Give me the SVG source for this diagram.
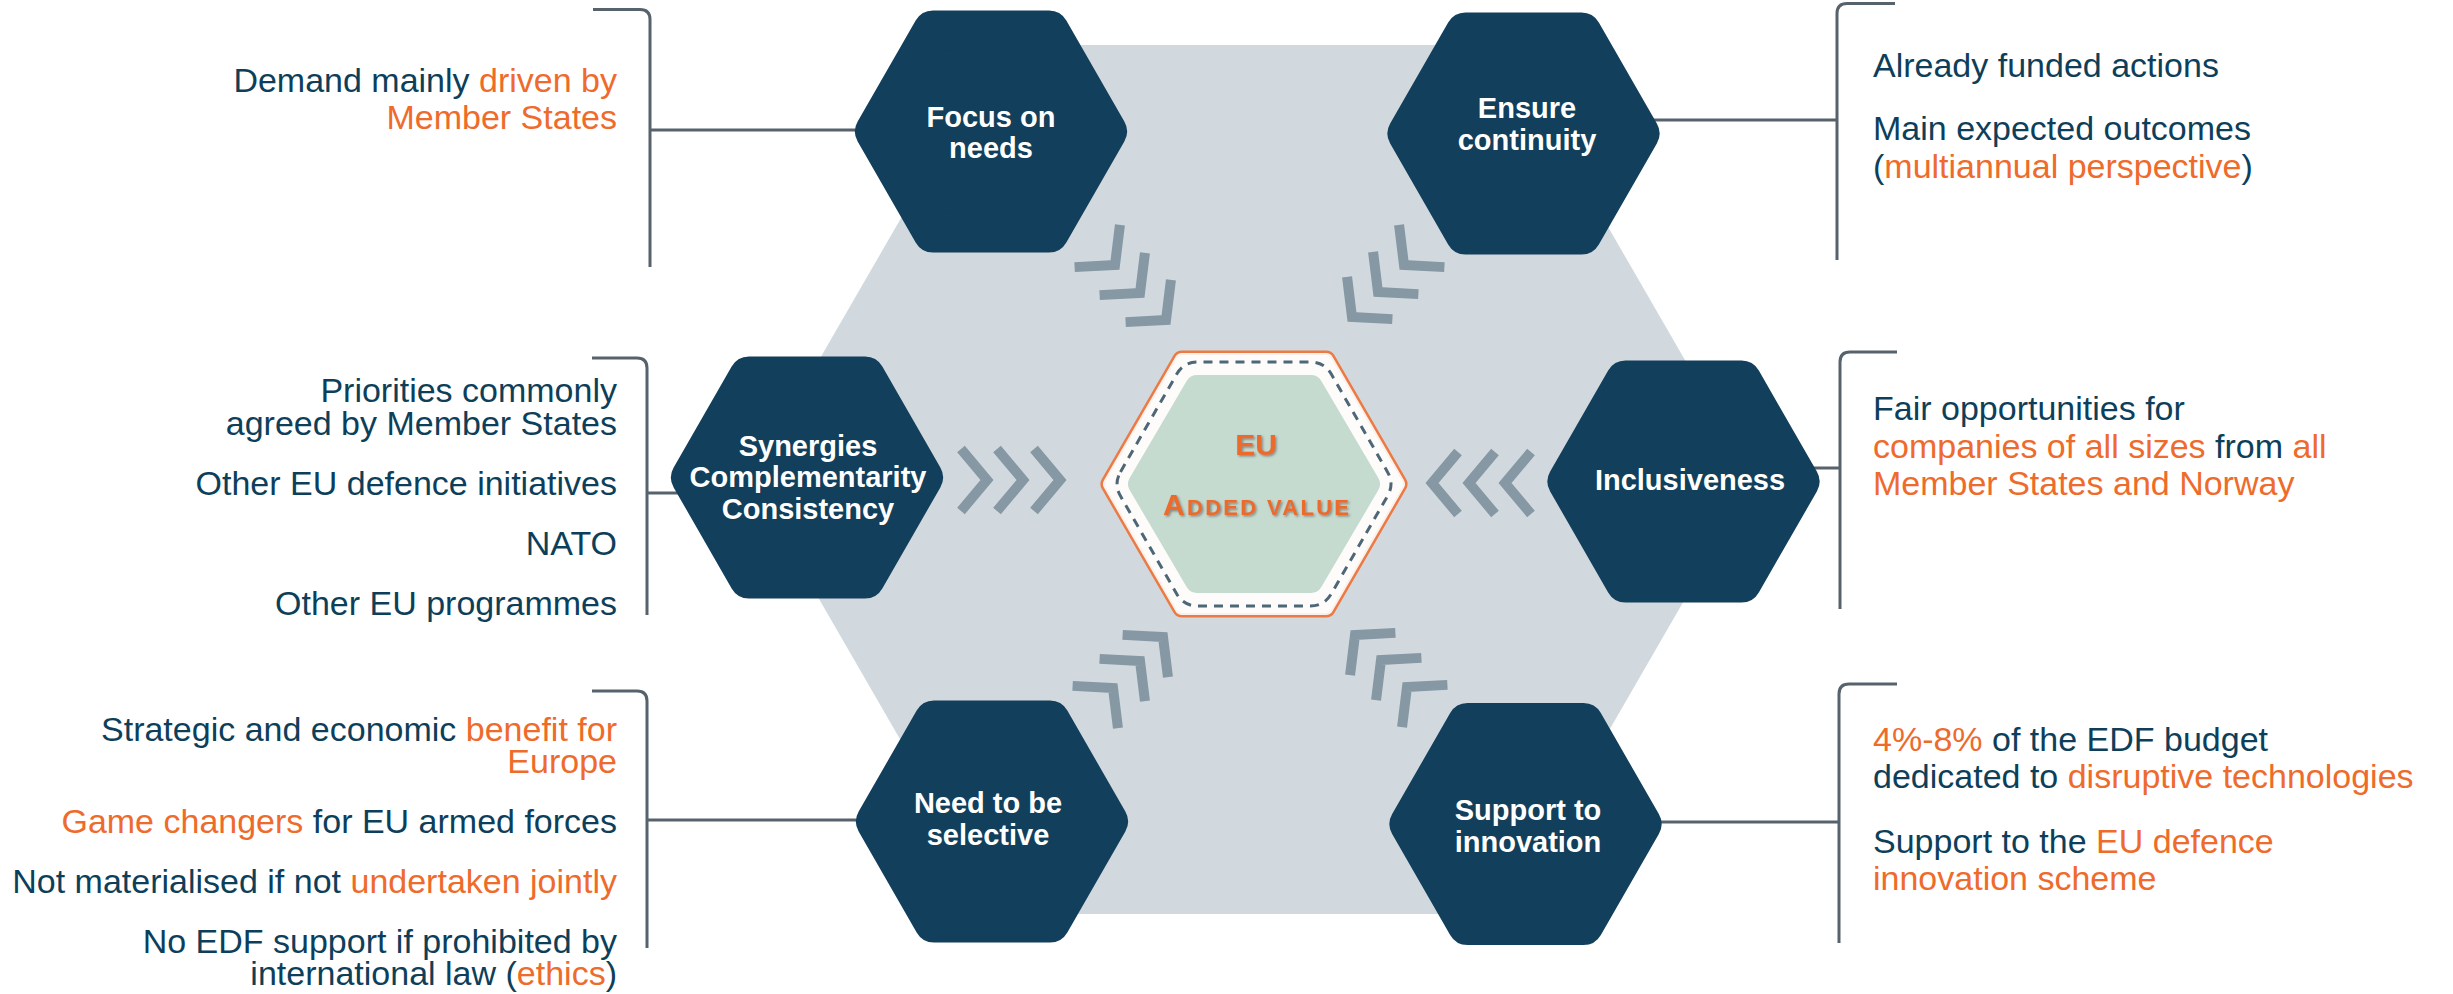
<svg xmlns="http://www.w3.org/2000/svg" width="2453" height="994" viewBox="0 0 2453 994">
<defs>
<style>
.t{font-family:"Liberation Sans",Arial,sans-serif;font-size:34px;fill:#0e3f5a}
.e{text-anchor:end}
.o{fill:#ee6b2b}
.l{font-family:"Liberation Sans",Arial,sans-serif;font-size:29px;font-weight:bold;fill:#ffffff;text-anchor:middle}
.hexn{fill:#123f5b;stroke:#123f5b;stroke-width:40;stroke-linejoin:round}
.br{fill:none;stroke:#56636c;stroke-width:3}
.ch{fill:none;stroke:#8598a4;stroke-width:10;stroke-linejoin:miter}
.cv{font-family:"Liberation Sans",Arial,sans-serif;font-weight:bold;fill:#ec6a2a;text-anchor:middle}
</style>
<polygon id="hx" points="-116,0 -58,-101 58,-101 116,0 58,101 -58,101"/>
<path id="chev" d="M-26,-31 L0,0 L-26,31"/>
<filter id="sh" x="-20%" y="-20%" width="140%" height="140%">
<feDropShadow dx="1.5" dy="1.5" stdDeviation="0.8" flood-color="#4a4a4a" flood-opacity="0.55"/>
</filter>
</defs>
<rect width="2453" height="994" fill="#ffffff"/>
<polygon id="background" points="750,479.5 1001,45 1503,45 1754,479.5 1503,914 1001,914" fill="#d1d9df"/>
<g id="connectors">
<path class="br" d="M593,9.5 L640,9.5 Q650,9.5 650,19.5 L650,267 M650,130 L870,130"/>
<path class="br" d="M592,358 L637,358 Q647,358 647,368 L647,615 M647,493 L700,493"/>
<path class="br" d="M592,691 L637,691 Q647,691 647,701 L647,948 M647,820 L880,820"/>
<path class="br" d="M1895,3.5 L1847,3.5 Q1837,3.5 1837,13.5 L1837,260 M1630,120 L1837,120"/>
<path class="br" d="M1897,352 L1850,352 Q1840,352 1840,362 L1840,609 M1790,468 L1840,468"/>
<path class="br" d="M1897,684 L1849,684 Q1839,684 1839,694 L1839,943 M1630,822 L1839,822"/>
</g>
<g id="chevrons">
<use href="#chev" class="ch" transform="translate(987,480)"/>
<use href="#chev" class="ch" transform="translate(1023,480)"/>
<use href="#chev" class="ch" transform="translate(1060,480)"/>
<use href="#chev" class="ch" transform="translate(1432,483) rotate(180)"/>
<use href="#chev" class="ch" transform="translate(1469,483) rotate(180)"/>
<use href="#chev" class="ch" transform="translate(1505,483) rotate(180)"/>
<use href="#chev" class="ch" transform="translate(1115,265) rotate(47)"/>
<use href="#chev" class="ch" transform="translate(1140,293) rotate(47)"/>
<use href="#chev" class="ch" transform="translate(1166,320) rotate(47)"/>
<use href="#chev" class="ch" transform="translate(1404,265) rotate(133)"/>
<use href="#chev" class="ch" transform="translate(1378,292) rotate(133)"/>
<use href="#chev" class="ch" transform="translate(1352,317) rotate(133)"/>
<use href="#chev" class="ch" transform="translate(1163,637) rotate(-47)"/>
<use href="#chev" class="ch" transform="translate(1140,661) rotate(-47)"/>
<use href="#chev" class="ch" transform="translate(1113,688) rotate(-47)"/>
<use href="#chev" class="ch" transform="translate(1355,635) rotate(-133)"/>
<use href="#chev" class="ch" transform="translate(1381,660) rotate(-133)"/>
<use href="#chev" class="ch" transform="translate(1407,687) rotate(-133)"/>
</g>
<g id="focus-on-needs">
<use href="#hx" class="hexn" transform="translate(991,131.5)"/>
<text class="l" x="991" y="127">Focus on</text>
<text class="l" x="991" y="158">needs</text>
</g>
<g id="ensure-continuity">
<use href="#hx" class="hexn" transform="translate(1523.5,133.5)"/>
<text class="l" x="1527" y="118">Ensure</text>
<text class="l" x="1527" y="150">continuity</text>
</g>
<g id="synergies">
<use href="#hx" class="hexn" transform="translate(807,477.5)"/>
<text class="l" x="808" y="456">Synergies</text>
<text class="l" x="808" y="487">Complementarity</text>
<text class="l" x="808" y="519">Consistency</text>
</g>
<g id="inclusiveness">
<use href="#hx" class="hexn" transform="translate(1683.5,481.5)"/>
<text class="l" x="1690" y="490">Inclusiveness</text>
</g>
<g id="need-to-be-selective">
<use href="#hx" class="hexn" transform="translate(992,821.5)"/>
<text class="l" x="988" y="813">Need to be</text>
<text class="l" x="988" y="845">selective</text>
</g>
<g id="support-to-innovation">
<use href="#hx" class="hexn" transform="translate(1525.5,824)"/>
<text class="l" x="1528" y="820">Support to</text>
<text class="l" x="1528" y="852">innovation</text>
</g>
<g id="eu-added-value">
<g transform="translate(1254,484)">
<polygon points="-143.5,0 -72,-123.5 72,-123.5 143.5,0 72,123.5 -72,123.5" fill="#ec7a45" stroke="#ec7a45" stroke-width="20" stroke-linejoin="round"/>
<polygon points="-143.5,0 -72,-123.5 72,-123.5 143.5,0 72,123.5 -72,123.5" fill="#fdfcfa" stroke="#fbf1ea" stroke-width="15" stroke-linejoin="round"/>
<polygon points="-143.5,0 -72,-123.5 72,-123.5 143.5,0 72,123.5 -72,123.5" fill="#fdfcfa" stroke="#fdfcfa" stroke-width="11" stroke-linejoin="round"/>
<path d="M-133.5,-12.1 L-77.25,-109.9 Q-70.25,-122 -56.25,-122 L56.25,-122 Q70.25,-122 77.25,-109.9 L133.5,-12.1 Q140.5,0 133.5,12.1 L77.25,109.9 Q70.25,122 56.25,122 L-56.25,122 Q-70.25,122 -77.25,109.9 L-133.5,12.1 Q-140.5,0 -133.5,-12.1 Z" fill="none" stroke="#4e6676" stroke-width="3" stroke-dasharray="9 7"/>
<polygon points="-114,0 -57,-97 57,-97 114,0 57,97 -57,97" fill="#c6dbd0" stroke="#c6dbd0" stroke-width="24" stroke-linejoin="round"/>
</g>
<text class="cv" x="1256" y="455" font-size="30" filter="url(#sh)">EU</text>
<text class="cv" x="1256" y="515" font-size="22" textLength="186" lengthAdjust="spacing" filter="url(#sh)"><tspan font-size="30">A</tspan>DDED VALUE</text>
</g>
<g id="text-focus">
<text class="t e" x="617" y="92">Demand mainly <tspan class="o">driven by</tspan></text>
<text class="t e o" x="617" y="129">Member States</text>
</g>
<g id="text-synergies">
<text class="t e" x="617" y="402">Priorities commonly</text>
<text class="t e" x="617" y="435">agreed by Member States</text>
<text class="t e" x="617" y="495">Other EU defence initiatives</text>
<text class="t e" x="617" y="555">NATO</text>
<text class="t e" x="617" y="615">Other EU programmes</text>
</g>
<g id="text-need">
<text class="t e" x="617" y="741">Strategic and economic <tspan class="o">benefit for</tspan></text>
<text class="t e o" x="617" y="773">Europe</text>
<text class="t e" x="617" y="833"><tspan class="o">Game changers</tspan> for EU armed forces</text>
<text class="t e" x="617" y="893">Not materialised if not <tspan class="o">undertaken jointly</tspan></text>
<text class="t e" x="617" y="953">No EDF support if prohibited by</text>
<text class="t e" x="617" y="985">international law (<tspan class="o">ethics</tspan>)</text>
</g>
<g id="text-ensure">
<text class="t" x="1873" y="77">Already funded actions</text>
<text class="t" x="1873" y="140">Main expected outcomes</text>
<text class="t" x="1873" y="178">(<tspan class="o">multiannual perspective</tspan>)</text>
</g>
<g id="text-inclusiveness">
<text class="t" x="1873" y="420">Fair opportunities for</text>
<text class="t" x="1873" y="458"><tspan class="o">companies of all sizes</tspan> from <tspan class="o">all</tspan></text>
<text class="t o" x="1873" y="495">Member States and Norway</text>
</g>
<g id="text-support">
<text class="t" x="1873" y="751"><tspan class="o">4%-8%</tspan> of the EDF budget</text>
<text class="t" x="1873" y="788">dedicated to <tspan class="o">disruptive technologies</tspan></text>
<text class="t" x="1873" y="853">Support to the <tspan class="o">EU defence</tspan></text>
<text class="t o" x="1873" y="890">innovation scheme</text>
</g>
</svg>
